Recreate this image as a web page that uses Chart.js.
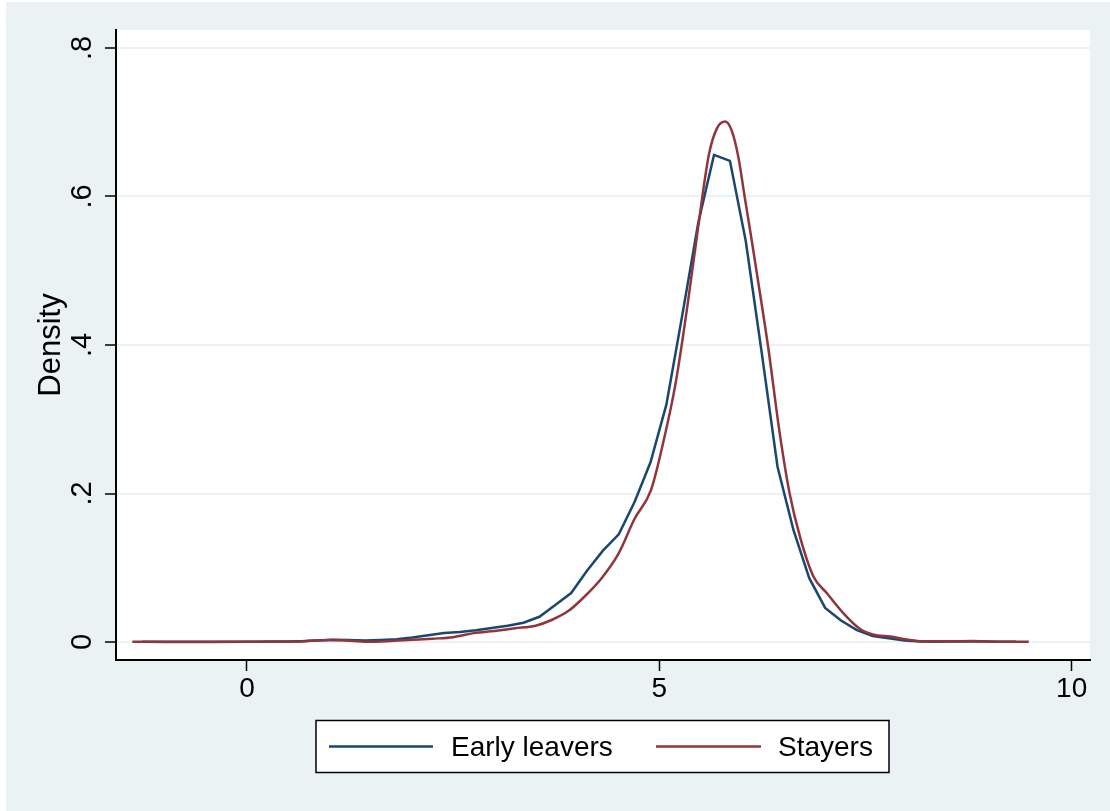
<!DOCTYPE html>
<html>
<head>
<meta charset="utf-8">
<script src="https://cdn.jsdelivr.net/npm/chart.js@4/dist/chart.umd.min.js"></script>
<style>
  html, body { margin: 0; padding: 0; background: #ffffff; }
  canvas { display: block; }
</style>
</head>
<body>
<canvas id="chart" width="1110" height="811"></canvas>
<script>
// Kernel density estimates of the two groups
const leaversX = [-1.267, -1.075, -0.882, -0.690, -0.497, -0.305, -0.112, 0.080, 0.273, 0.465,
  0.658, 0.850, 1.043, 1.235, 1.428, 1.620, 1.813, 2.005, 2.198, 2.390,
  2.583, 2.775, 2.968, 3.160, 3.353, 3.546, 3.738, 3.931, 4.123, 4.316,
  4.508, 4.701, 4.893, 5.086, 5.278, 5.471, 5.663, 5.856, 6.048, 6.241,
  6.433, 6.626, 6.818, 7.011, 7.203, 7.396, 7.588, 7.781, 7.973, 8.166,
  8.358, 8.551, 8.743, 8.936, 9.128, 9.321];
const leaversY = [0.0004, 0.0003, 0.0003, 0.0003, 0.0004, 0.0005, 0.0005, 0.0005, 0.0006, 0.0008,
  0.0012, 0.0020, 0.0030, 0.0027, 0.0022, 0.0028, 0.0038, 0.0060, 0.0090, 0.0120,
  0.0135, 0.0160, 0.0190, 0.0220, 0.0260, 0.0340, 0.0500, 0.0660, 0.0960, 0.1230,
  0.1450, 0.1890, 0.2420, 0.3200, 0.4400, 0.5640, 0.6560, 0.6480, 0.5400, 0.3900,
  0.2360, 0.1510, 0.0860, 0.0460, 0.0290, 0.0160, 0.0080, 0.0050, 0.0020, 0.0006,
  0.0005, 0.0006, 0.0008, 0.0007, 0.0004, 0.0003];

const stayersX = [-1.39, -1.0, -0.5, 0.0, 0.4, 0.7, 1.0, 1.2, 1.45, 1.7,
  2.0, 2.25, 2.5, 2.75, 3.0, 3.25, 3.5, 3.7, 3.9, 4.1,
  4.3, 4.5, 4.7, 4.9, 5.05, 5.2, 5.35, 5.47, 5.6, 5.7,
  5.8, 5.88, 5.96, 6.03, 6.12, 6.22, 6.32, 6.46, 6.58, 6.71,
  6.87, 7.03, 7.23, 7.43, 7.6, 7.8, 8.0, 8.2, 8.5, 8.8,
  9.1, 9.48];
const stayersY = [0.0003, 0.0002, 0.0002, 0.0003, 0.0005, 0.0012, 0.0028, 0.0022, 0.0005, 0.0012,
  0.0030, 0.0045, 0.0065, 0.0120, 0.0150, 0.0185, 0.0220, 0.0300, 0.0420, 0.0620,
  0.0860, 0.1180, 0.1660, 0.2050, 0.2700, 0.3500, 0.4600, 0.5580, 0.6560, 0.6920,
  0.7010, 0.6880, 0.6520, 0.6030, 0.5410, 0.4700, 0.3970, 0.2810, 0.2000, 0.1400,
  0.0880, 0.0660, 0.0390, 0.0180, 0.0100, 0.0075, 0.0035, 0.0010, 0.0010, 0.0013,
  0.0005, 0.0005];

const seriesNames = ['Early leavers', 'Stayers'];
const seriesColors = ['#1a476f', '#90353b'];

const xTicks = [0, 5, 10];
const xTickLabels = ['0', '5', '10'];
const yTicks = [0, 0.2, 0.4, 0.6, 0.8];
const yTickLabels = ['0', '.2', '.4', '.6', '.8'];
const yTitle = 'Density';

const FONT = '"Liberation Sans", Arial, Helvetica, sans-serif';
const PANEL = '#eaf2f3';

function toPoints(xs, ys) {
  return xs.map((x, i) => ({ x: x, y: ys[i] }));
}

// Light outer panel with a white plot region
const panelPlugin = {
  id: 'panel',
  beforeDraw(chart) {
    const ctx = chart.ctx;
    const a = chart.chartArea;
    ctx.save();
    ctx.fillStyle = '#ffffff';
    ctx.fillRect(0, 0, chart.width, chart.height);
    ctx.fillStyle = PANEL;
    ctx.fillRect(6, 2, chart.width - 6, chart.height - 2);
    ctx.fillStyle = '#ffffff';
    ctx.fillRect(a.left, a.top, a.right - a.left, a.bottom - a.top);
    ctx.restore();
  }
};

// Tick labels (vertical on the y axis), axis title and the boxed legend
const decorPlugin = {
  id: 'decor',
  afterDraw(chart) {
    const ctx = chart.ctx;
    const xs = chart.scales.x;
    const ys = chart.scales.y;
    const a = chart.chartArea;
    ctx.save();
    ctx.fillStyle = '#000000';
    ctx.textAlign = 'center';
    ctx.textBaseline = 'alphabetic';

    ctx.font = '28px ' + FONT;
    xTicks.forEach((v, i) => {
      ctx.fillText(xTickLabels[i], xs.getPixelForValue(v), 697);
    });

    ctx.font = '29px ' + FONT;
    yTicks.forEach((v, i) => {
      const py = ys.getPixelForValue(v);
      ctx.save();
      ctx.translate(91, py);
      ctx.rotate(-Math.PI / 2);
      ctx.fillText(yTickLabels[i], 0, 0);
      ctx.restore();
    });

    ctx.font = '31px ' + FONT;
    ctx.save();
    ctx.translate(60, (a.top + a.bottom) / 2);
    ctx.rotate(-Math.PI / 2);
    ctx.fillText(yTitle, 0, 0);
    ctx.restore();

    // legend
    const bx = 316, by = 720.5, bw = 573, bh = 52;
    ctx.fillStyle = '#ffffff';
    ctx.fillRect(bx, by, bw, bh);
    ctx.strokeStyle = '#000000';
    ctx.lineWidth = 1.5;
    ctx.strokeRect(bx, by, bw, bh);
    const entries = [
      { x0: 329, x1: 433, tx: 451 },
      { x0: 656, x1: 761, tx: 778 }
    ];
    ctx.textAlign = 'left';
    chart.data.datasets.forEach((ds, i) => {
      const e = entries[i];
      ctx.strokeStyle = ds.borderColor;
      ctx.lineWidth = 2.5;
      ctx.beginPath();
      ctx.moveTo(e.x0, 746.5);
      ctx.lineTo(e.x1, 746.5);
      ctx.stroke();
      ctx.fillStyle = '#000000';
      ctx.font = '28px ' + FONT;
      ctx.fillText(ds.label, e.tx, 755.5);
    });
    ctx.restore();
  }
};

new Chart(document.getElementById('chart'), {
  type: 'line',
  data: {
    datasets: [
      {
        label: seriesNames[0],
        data: toPoints(leaversX, leaversY),
        borderColor: seriesColors[0],
        borderWidth: 2.5,
        pointRadius: 0,
        tension: 0,
        fill: false,
        order: 1
      },
      {
        label: seriesNames[1],
        data: toPoints(stayersX, stayersY),
        borderColor: seriesColors[1],
        borderWidth: 2.5,
        pointRadius: 0,
        cubicInterpolationMode: 'monotone',
        fill: false,
        order: 0
      }
    ]
  },
  options: {
    responsive: false,
    animation: false,
    devicePixelRatio: 1,
    layout: { padding: { left: 0, top: 30, right: 20, bottom: 0 } },
    plugins: {
      legend: { display: false },
      tooltip: { enabled: false }
    },
    scales: {
      x: {
        type: 'linear',
        min: -1.588,
        max: 10.222,
        afterBuildTicks(scale) { scale.ticks = xTicks.map(v => ({ value: v })); },
        afterFit(scale) { scale.height = 151; },
        ticks: { display: false },
        grid: {
          drawOnChartArea: false,
          drawTicks: true,
          tickLength: 11,
          tickColor: '#000000',
          tickWidth: 1.5
        },
        border: { color: '#000000', width: 2 }
      },
      y: {
        type: 'linear',
        min: -0.0242,
        max: 0.8242,
        afterBuildTicks(scale) { scale.ticks = yTicks.map(v => ({ value: v })); },
        afterFit(scale) { scale.width = 116; },
        ticks: { display: false },
        grid: {
          color: PANEL,
          lineWidth: 2,
          drawTicks: true,
          tickLength: 11,
          tickColor: '#000000',
          tickWidth: 1.5
        },
        border: { color: '#000000', width: 2 }
      }
    }
  },
  plugins: [panelPlugin, decorPlugin]
});
</script>
</body>
</html>
